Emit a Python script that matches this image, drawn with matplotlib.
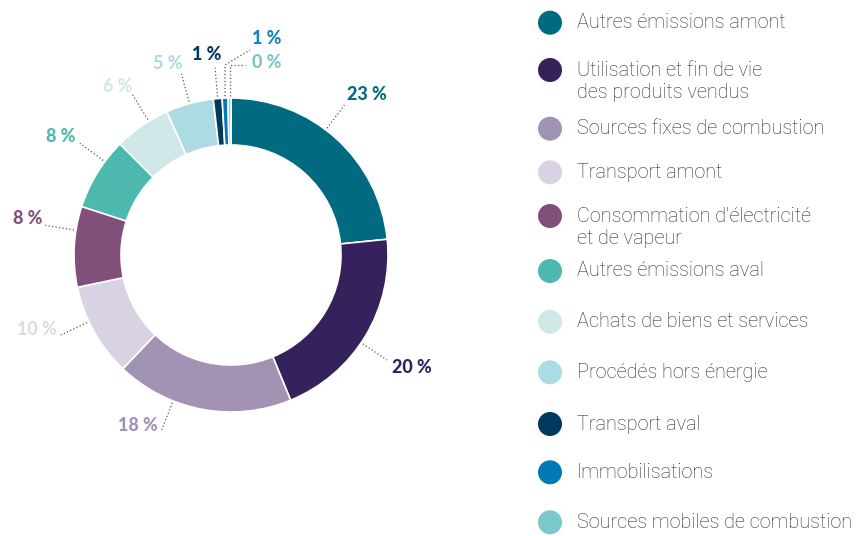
import matplotlib.pyplot as plt
from matplotlib.patches import Circle
import numpy as np

# parts du bilan carbone, dans l'ordre horaire à partir de midi
categories = [
    "Autres émissions amont",
    "Utilisation et fin de vie\ndes produits vendus",
    "Sources fixes de combustion",
    "Transport amont",
    "Consommation d'électricité\net de vapeur",
    "Autres émissions aval",
    "Achats de biens et services",
    "Procédés hors énergie",
    "Transport aval",
    "Immobilisations",
    "Sources mobiles de combustion",
]
values = [23.4, 20.4, 18.3, 9.6, 8.3, 7.5, 5.8, 4.9, 0.9, 0.6, 0.3]
colors = ["#006b80", "#35215c", "#a292b3", "#d9d2e2", "#824f7b", "#4db8ad",
          "#d0e8e8", "#acdbe3", "#013a5e", "#0079b4", "#7cc7c9"]
label_colors = ["#006b80", "#35215c", "#a292b3", "#dedae6", "#824f7b", "#4db8ad",
                "#d0e8e8", "#acdbe3", "#013a5e", "#0e86c0", "#7cc7c9"]

W, H = 861, 536
fig = plt.figure(figsize=(W / 100, H / 100), dpi=100)
ax = fig.add_axes([0, 0, 1, 1])

cx, cy = 231, H - 255
R = 157
wedges, _ = ax.pie(values, colors=colors, radius=R, center=(cx, cy),
                   startangle=90, counterclock=False,
                   wedgeprops=dict(width=47, edgecolor="white", linewidth=1.2))
ax.set_xlim(0, W)
ax.set_ylim(0, H)
ax.set_aspect("equal")
ax.axis("off")


def polar(ang, r):
    t = np.radians(ang)
    return cx + r * np.cos(t), cy + r * np.sin(t)


lead = dict(color="#555555", lw=0.9, ls=(0, (1, 1.8)))
lab = dict(fontfamily="Lato", fontweight="black", fontsize=13, va="center")

# décalage angulaire des traits de rappel, puis position du texte au bout du trait
angle_shift = {0: 5, 1: -3, 2: -11, 3: -4, 4: -6, 5: -5, 6: -3}
text_off = {0: (3, 11, "left"), 1: (5, -7, "left"), 2: (-4, 4, "right"),
            3: (-4, 5, "right"), 4: (-3, 7, "right"), 5: (-4, 7, "right"),
            6: (0, 8, "right"), 7: (1, 10, "right"), 8: (6, 13, "right")}

for i, (w, v) in enumerate(zip(wedges, values)):
    mid = (w.theta1 + w.theta2) / 2 + angle_shift.get(i, 0)
    txt = f"{v:.0f} %"
    x0, y0 = polar(mid, 159)
    if i < 9:
        x1, y1 = polar(mid, 188)
        ax.plot([x0, x1], [y0, y1], **lead)
        dx, dy, ha = text_off[i]
        ax.text(x1 + dx, y1 + dy, txt, color=label_colors[i], ha=ha, **lab)
    elif i == 9:
        ax.plot([x0, x0, 250], [y0, H - 65, H - 50], **lead)
        ax.text(252, H - 38, txt, color=label_colors[i], ha="left", **lab)
    else:
        ax.plot([x0, x0, 245], [y0, H - 65, H - 65], **lead)
        ax.text(252, H - 62, txt, color=label_colors[i], ha="left", **lab)

# légende à droite
rows = [22.7, 70, 128.7, 172.3, 216, 271, 321.7, 372.3, 424, 472.3, 522.3]
for name, col, ry in zip(categories, colors, rows):
    ax.add_patch(Circle((550, H - ry), 12, color=col, lw=0))
    for k, line in enumerate(name.split("\n")):
        ax.text(577, H - ry - 22 * k, line, fontfamily="Roboto", fontweight="light",
                fontsize=14.3, color="#2e2e2e", ha="left", va="center")

fig.savefig("out.png", dpi=100)
